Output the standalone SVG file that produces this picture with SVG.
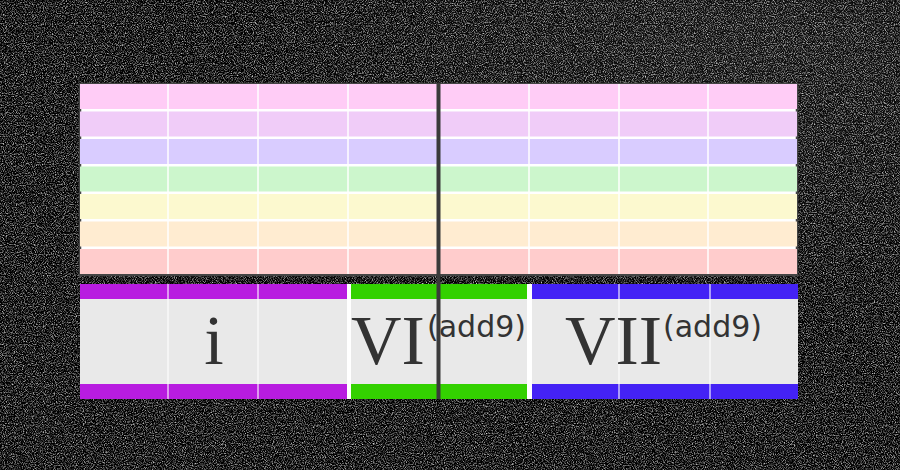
<svg xmlns="http://www.w3.org/2000/svg" width="900" height="470" viewBox="0 0 900 470">
  <defs>
    <filter id="sand" x="0" y="0" width="100%" height="100%" color-interpolation-filters="sRGB">
      <feTurbulence type="fractalNoise" baseFrequency="0.9" numOctaves="2" seed="7" result="n"/>
      <feColorMatrix in="n" type="matrix" values="1.8 0 0 0 -0.78  1.8 0 0 0 -0.78  1.8 0 0 0 -0.78  0 0 0 0 1"/>
    </filter>
    <radialGradient id="glow" cx="0.85" cy="0.1" r="0.6">
      <stop offset="0" stop-color="#ffffff" stop-opacity="0.06"/>
      <stop offset="1" stop-color="#ffffff" stop-opacity="0"/>
    </radialGradient>
    <style>
      .roman { font-family: "Liberation Serif", "Times New Roman", serif; font-size: 70px; fill: #333333; }
      .sup { font-family: "DejaVu Sans", Verdana, sans-serif; font-size: 30px; fill: #333333; }
      .gline { stroke: #ffffff; stroke-width: 2; stroke-opacity: 0.75; }
      .bline { stroke: #ffffff; stroke-width: 2; stroke-opacity: 0.55; }
      .sep { fill: #ffffff; }
      .body { fill: #e9e9e9; }
      .divider { fill: #3a3a3a; }
    </style>
  </defs>

  <!-- background -->
  <rect x="0" y="0" width="900" height="470" fill="#1b1b1b"/>
  <rect x="0" y="0" width="900" height="470" filter="url(#sand)"/>
  <rect x="0" y="0" width="900" height="470" fill="url(#glow)"/>

  <!-- top pastel grid -->
  <g id="grid">
    <rect x="80" y="84" width="717" height="191" fill="#ffffff" stroke="#444444" stroke-width="2.5"/>
    <rect x="80" y="84" width="717" height="25" fill="#ffccf6"/>
    <rect x="80" y="111.5" width="717" height="25" fill="#f0ccf8"/>
    <rect x="80" y="139" width="717" height="25" fill="#d9ccff"/>
    <rect x="80" y="166.5" width="717" height="25" fill="#ccf6cc"/>
    <rect x="80" y="194" width="717" height="25" fill="#fcf9cf"/>
    <rect x="80" y="221.5" width="717" height="25" fill="#ffecd1"/>
    <rect x="80" y="249" width="717" height="25" fill="#ffcccc"/>
    <line class="gline" x1="168" y1="84" x2="168" y2="274"/>
    <line class="gline" x1="258" y1="84" x2="258" y2="274"/>
    <line class="gline" x1="348" y1="84" x2="348" y2="274"/>
    <line class="gline" x1="529" y1="84" x2="529" y2="274"/>
    <line class="gline" x1="619" y1="84" x2="619" y2="274"/>
    <line class="gline" x1="708" y1="84" x2="708" y2="274"/>
  </g>

  <!-- chord i -->
  <g id="chord-i">
    <rect class="body" x="80" y="284" width="267" height="115"/>
    <rect x="80" y="284" width="267" height="15" fill="#b81ce0"/>
    <rect x="80" y="384" width="267" height="15" fill="#b81ce0"/>
    <line class="bline" x1="168" y1="284" x2="168" y2="399"/>
    <line class="bline" x1="258" y1="284" x2="258" y2="399"/>
    <text class="roman" x="214" y="364" text-anchor="middle">i</text>
  </g>

  <!-- chord VI(add9) -->
  <g id="chord-VI">
    <rect class="body" x="351" y="284" width="176" height="115"/>
    <rect x="351" y="284" width="176" height="15" fill="#33d100"/>
    <rect x="351" y="384" width="176" height="15" fill="#33d100"/>
    <text class="roman" x="351" y="364">VI</text>
    <text class="sup" x="427" y="337">(add9)</text>
  </g>

  <!-- chord VII(add9) -->
  <g id="chord-VII">
    <rect class="body" x="532" y="284" width="266" height="115"/>
    <rect x="532" y="284" width="266" height="15" fill="#4422f5"/>
    <rect x="532" y="384" width="266" height="15" fill="#4422f5"/>
    <line class="bline" x1="619" y1="284" x2="619" y2="399"/>
    <line class="bline" x1="710" y1="284" x2="710" y2="399"/>
    <text class="roman" x="565" y="364">VII</text>
    <text class="sup" x="663" y="337">(add9)</text>
  </g>

  <!-- separators between chord sections -->
  <g id="separators">
    <rect class="sep" x="347" y="284" width="4" height="115"/>
    <rect class="sep" x="527" y="284" width="5" height="115"/>
  </g>

  <g id="connectors"></g>

  <!-- center divider -->
  <g id="divider">
    <rect class="divider" x="436.5" y="83" width="4" height="316"/>
  </g>
</svg>
